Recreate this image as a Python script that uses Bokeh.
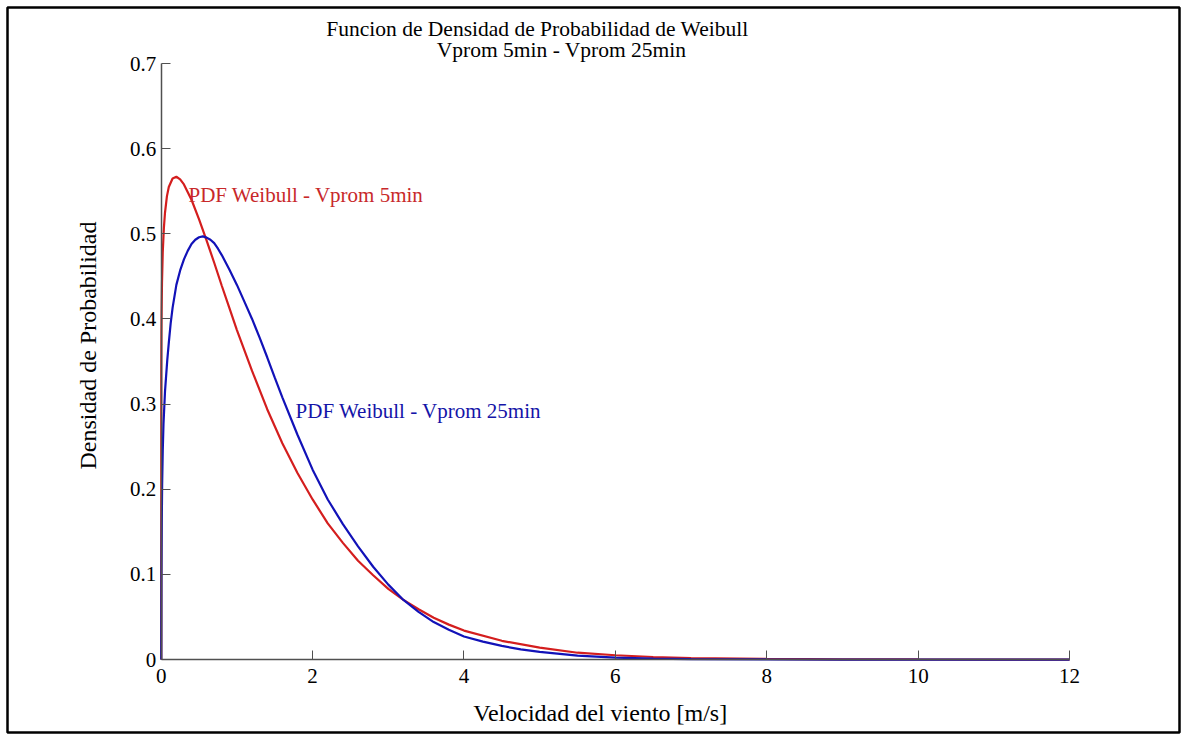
from bokeh.plotting import figure
from bokeh.models import Label, FixedTicker, Range1d, LinearAxis
from bokeh.embed import file_html
from bokeh.resources import INLINE

# ---- data ----
title_lines = ["Funcion de Densidad de Probabilidad de Weibull", "Vprom 5min - Vprom 25min"]
x_label = "Velocidad del viento [m/s]"
y_label = "Densidad de Probabilidad"
red_name = "PDF Weibull - Vprom 5min"
blue_name = "PDF Weibull - Vprom 25min"

x_ticks = [0, 2, 4, 6, 8, 10, 12]
y_ticks = [0, 0.1, 0.2, 0.3, 0.4, 0.5, 0.6, 0.7]
y_tick_labels = ["0", "0.1", "0.2", "0.3", "0.4", "0.5", "0.6", "0.7"]

red_x = [0, 0.001, 0.003, 0.005, 0.01, 0.02, 0.035, 0.05, 0.075, 0.1, 0.15, 0.2, 0.25, 0.3,
         0.4, 0.5, 0.6, 0.7, 0.8, 0.9, 1.0, 1.2, 1.4, 1.6, 1.8, 2.0, 2.2, 2.4, 2.6, 2.8,
         3.0, 3.2, 3.4, 3.6, 3.8, 4.0, 4.5, 5.0, 5.5, 6.0, 6.5, 7.0, 8.0, 9.0, 10.0, 11.0, 12.0]
red_y = [0, 0.336, 0.384, 0.407, 0.442, 0.478, 0.507, 0.525, 0.544, 0.555, 0.565, 0.567, 0.564, 0.558,
         0.540, 0.517, 0.492, 0.466, 0.439, 0.413, 0.387, 0.339, 0.294, 0.254, 0.219, 0.188, 0.160, 0.137, 0.116, 0.099,
         0.083, 0.070, 0.059, 0.049, 0.041, 0.034, 0.022, 0.014, 0.008, 0.005, 0.003, 0.0018, 0.0007, 0.0003, 0.0001, 0.0, 0.0]

blue_x = [0, 0.003, 0.007, 0.012, 0.02, 0.03, 0.05, 0.08, 0.1, 0.125, 0.15, 0.2, 0.25, 0.3, 0.35,
          0.4, 0.45, 0.5, 0.55, 0.6, 0.65, 0.7, 0.75, 0.8, 0.9, 1.0, 1.1, 1.2, 1.3, 1.4, 1.5, 1.6, 1.8,
          2.0, 2.2, 2.4, 2.6, 2.8, 3.0, 3.2, 3.4, 3.6, 3.8, 4.0, 4.25, 4.5, 4.75, 5.0, 5.5,
          6.0, 6.5, 7.0, 8.0, 9.0, 10.0, 12.0]
blue_y = [0, 0.10, 0.16, 0.205, 0.245, 0.277, 0.315, 0.352, 0.372, 0.395, 0.413, 0.440, 0.457, 0.470, 0.480,
          0.488, 0.493, 0.496, 0.497, 0.4955, 0.493, 0.489, 0.4825, 0.475, 0.458, 0.440, 0.420, 0.400, 0.378, 0.355, 0.331, 0.308, 0.264,
          0.223, 0.188, 0.159, 0.133, 0.109, 0.088, 0.070, 0.056, 0.044, 0.035, 0.027, 0.021, 0.016, 0.012, 0.009, 0.0045,
          0.0022, 0.0011, 0.0005, 0.0001, 0.0, 0.0, 0.0]

RED = "#d41e1e"
BLUE = "#1212b8"
FONT = "Liberation Serif"
FS = "21px"
FS_AXIS = "24px"

# frame covers the whole page inside the black outer border; axes sit at x=0 / y=0
p = figure(width=1181, height=736, output_backend="svg", toolbar_location=None,
           x_range=Range1d(-2.031, 13.453), y_range=Range1d(-0.0857, 0.7658),
           x_axis_location=None, y_axis_location=None,
           min_border_left=7, min_border_right=2, min_border_top=7, min_border_bottom=4)
p.outline_line_color = "black"
p.outline_line_width = 2.5
p.grid.visible = False
p.background_fill_color = "white"
p.border_fill_color = "white"

xaxis = LinearAxis(fixed_location=0, bounds=(0, 12), ticker=FixedTicker(ticks=x_ticks))
yaxis = LinearAxis(fixed_location=0, bounds=(0, 0.7), ticker=FixedTicker(ticks=y_ticks))
yaxis.major_label_overrides = {t: s for t, s in zip(y_ticks, y_tick_labels)}
for ax in (xaxis, yaxis):
    ax.axis_line_color = "#505050"
    ax.axis_line_width = 1.5
    ax.major_tick_line_color = "#505050"
    ax.major_tick_in = 9
    ax.major_tick_out = 0
    ax.minor_tick_line_color = None
    ax.major_label_text_font = FONT
    ax.major_label_text_font_size = FS
    ax.major_label_text_color = "black"
xaxis.major_label_standoff = 9
yaxis.major_label_standoff = 5
p.add_layout(xaxis, "below")
p.add_layout(yaxis, "left")

p.line(red_x, red_y, line_color=RED, line_width=2.2)
p.line(blue_x, blue_y, line_color=BLUE, line_width=2.2)

p.add_layout(Label(x=0.36, y=0.545, text=red_name, text_color="#c8282a", text_font=FONT,
                   text_font_size=FS, text_baseline="alphabetic"))
p.add_layout(Label(x=1.775, y=0.292, text=blue_name, text_color="#1414a8", text_font=FONT,
                   text_font_size=FS, text_baseline="alphabetic"))

p.add_layout(Label(x=4.97, y=0.740, text=title_lines[0], text_align="center", text_font=FONT,
                   text_font_size="21.5px", text_baseline="alphabetic", text_color="black"))
p.add_layout(Label(x=5.29, y=0.7154, text=title_lines[1], text_align="center", text_font=FONT,
                   text_font_size="21.5px", text_baseline="alphabetic", text_color="black"))
p.add_layout(Label(x=5.80, y=-0.0623, text=x_label, text_align="center", text_font=FONT,
                   text_font_size=FS_AXIS, text_baseline="alphabetic", text_color="black"))
p.add_layout(Label(x=-0.974, y=0.3688, text=y_label, text_align="center", angle=1.5707963,
                   text_font=FONT, text_font_size=FS_AXIS, text_baseline="middle", text_color="black"))

open("out.html", "w").write(file_html(p, INLINE))
